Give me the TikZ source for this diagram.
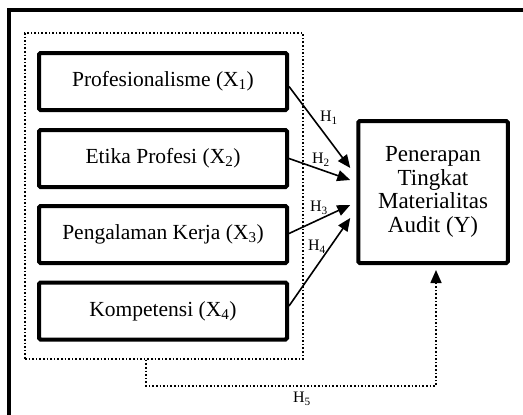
\documentclass[tikz,border=0pt]{standalone}
\usepackage{fontspec}
\setmainfont{Liberation Serif}
\usetikzlibrary{calc,arrows.meta}
\begin{document}
\begin{tikzpicture}[x=1pt,y=-1pt,
  varbox/.style={draw,line width=4pt,rounded corners=1.5pt,minimum width=248pt,minimum height=57pt,inner sep=0pt,font=\fontsize{21.5}{24}\selectfont},
  ybox/.style={draw,line width=4pt,rounded corners=1.5pt,minimum width=149.5pt,minimum height=142pt,inner sep=0pt,align=center,font=\fontsize{23}{23.5}\selectfont},
  grpbox/.style={draw,dotted,line width=1.6pt,inner sep=0pt},
  hyp/.style={-{Triangle[length=13pt,width=11pt]},line width=1.6pt},
  hyp5/.style={-{Triangle[length=13pt,width=11pt]},dotted,line width=1.6pt},
  hlab/.style={inner sep=0pt,font=\fontsize{16}{18}\selectfont}]
\useasboundingbox (0,0) rectangle (523,415);
\begin{scope}
\clip (0,0) rectangle (523,415);
\draw[line width=4pt] (9,10) rectangle (540,430);
\end{scope}
\node[grpbox,minimum width=278pt,minimum height=326pt] (grp) at (164,196) {};
\node[varbox] (x1) at (163,81.5) {Profesionalisme (X\textsubscript{1})};
\node[varbox] (x2) at (163,158.5) {Etika Profesi (X\textsubscript{2})};
\node[varbox] (x3) at (163,234.5) {Pengalaman Kerja (X\textsubscript{3})};
\node[varbox] (x4) at (163,311) {Kompetensi (X\textsubscript{4})};
\node[ybox] (y) at (433,192) {Penerapan\\Tingkat\\Materialitas\\Audit (Y)};
\draw[hyp] ($(x1.east)+(0,5)$) -- ($(y.west)+(-6,-24)$);
\draw[hyp] ($(x2.east)+(0,0)$) -- ($(y.west)+(-6,-12)$);
\draw[hyp] ($(x3.east)+(0,-1)$) -- ($(y.west)+(-6,13)$);
\draw[hyp] ($(x4.east)+(0,-5)$) -- ($(y.west)+(-6,26)$);
\draw[hyp5] ($(grp.south)+(-18,0)$) -- ++(0,26) -| ($(y.south)+(3,5)$);
\node[hlab] (h1) at (329,118) {H\textsubscript{1}};
\node[hlab] (h2) at (321,160) {H\textsubscript{2}};
\node[hlab] (h3) at (319,208) {H\textsubscript{3}};
\node[hlab] (h4) at (317,247) {H\textsubscript{4}};
\node[hlab] (h5) at (302,399) {H\textsubscript{5}};
\end{tikzpicture}
\end{document}
